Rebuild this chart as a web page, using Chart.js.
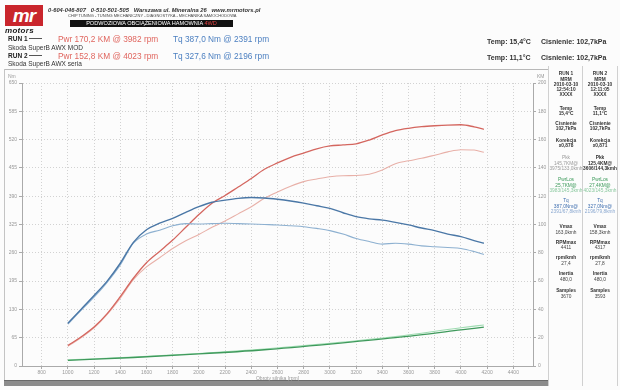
<!DOCTYPE html>
<html>
<head>
<meta charset="utf-8">
<script src="https://cdn.jsdelivr.net/npm/chart.js@4.4.0/dist/chart.umd.min.js"></script>
<style>
  body { margin: 0; background: #fff; }
  #strona { position: relative; width: 620px; height: 390px; overflow: hidden; background: #fcfcfc;
            font-family: "Liberation Sans", Arial, sans-serif; color: #333; }
  #wykres { position: absolute; left: 0; top: 0; }
  .t { position: absolute; white-space: nowrap; line-height: 1; }
  .kol { position: absolute; width: 34px; text-align: center; }
</style>
</head>
<body>
<div id="strona">
  <!-- ramka wykresu -->
  <div style="position:absolute;left:4px;top:69px;width:544px;height:1px;background:#b8b8b8"></div>
  <div style="position:absolute;left:4px;top:69px;width:1px;height:312px;background:#c4c4c4"></div>
  <div style="position:absolute;left:4px;top:380px;width:544px;height:5px;background:#8c8c8c;border-top:1px solid #6a6a6a"></div>
  <!-- panel z prawej -->
  <div style="position:absolute;left:548px;top:66px;width:1px;height:320px;background:#d0d0d0"></div>
  <div style="position:absolute;left:582px;top:66px;width:1px;height:320px;background:#d0d0d0"></div>
  <div style="position:absolute;left:617px;top:66px;width:1px;height:320px;background:#d0d0d0"></div>

  <canvas id="wykres" width="620" height="390"></canvas>

  <!-- naglowek -->
  <div style="position:absolute;left:5px;top:5px;width:38px;height:21px;background:#c9252c;color:#fff;font:italic bold 19px 'Liberation Sans',Arial;line-height:21px;text-align:center;letter-spacing:-1px">mr</div>
  <div class="t" style="left:5px;top:26px;font:italic bold 8px 'Liberation Sans',Arial;color:#1a1a1a;letter-spacing:0.3px">motors</div>
  <div class="t" style="left:48px;top:7px;font:italic bold 5.8px 'Liberation Sans',Arial;color:#333">0-604-046-807&nbsp;&nbsp; 0-510-501-505&nbsp;&nbsp; Warszawa ul. Mineralna 26&nbsp;&nbsp; www.mrmotors.pl</div>
  <div class="t" style="left:68px;top:13px;font:4px 'Liberation Sans',Arial;color:#444">CHIP TUNING - TUNING MECHANICZNY - DIAGNOSTYKA - MECHANIKA SAMOCHODOWA</div>
  <div style="position:absolute;left:70px;top:20px;width:163px;height:7px;background:#111;color:#fff;font:5.6px 'Liberation Sans',Arial;line-height:7px;text-align:center;white-space:nowrap">PODWOZIOWA OBCIĄŻENIOWA HAMOWNIA <span style="color:#e04040">4WD</span></div>

  <div class="t" style="left:8px;top:35px;font:bold 6.5px 'Liberation Sans',Arial;color:#222">RUN 1</div>
  <div style="position:absolute;left:29px;top:38px;width:13px;height:1px;background:#555"></div>
  <div class="t" style="left:58px;top:34px;font:8.3px 'Liberation Sans',Arial;color:#e0665f">Pwr 170,2 KM @ 3982 rpm</div>
  <div class="t" style="left:173px;top:34px;font:8.3px 'Liberation Sans',Arial;color:#4b7fc0">Tq 387,0 Nm @ 2391 rpm</div>
  <div class="t" style="left:8px;top:44px;font:6.5px 'Liberation Sans',Arial;color:#333">Skoda SuperB AWX MOD</div>

  <div class="t" style="left:8px;top:52px;font:bold 6.5px 'Liberation Sans',Arial;color:#222">RUN 2</div>
  <div style="position:absolute;left:29px;top:55px;width:13px;height:1px;background:#555"></div>
  <div class="t" style="left:58px;top:51px;font:8.3px 'Liberation Sans',Arial;color:#e0665f">Pwr 152,8 KM @ 4023 rpm</div>
  <div class="t" style="left:173px;top:51px;font:8.3px 'Liberation Sans',Arial;color:#4b7fc0">Tq 327,6 Nm @ 2196 rpm</div>
  <div class="t" style="left:8px;top:60px;font:6.5px 'Liberation Sans',Arial;color:#333">Skoda SuperB AWX seria</div>

  <div class="t" style="left:487px;top:38px;font:bold 7px 'Liberation Sans',Arial;color:#333">Temp: 15,4°C</div>
  <div class="t" style="left:541px;top:38px;font:bold 7px 'Liberation Sans',Arial;color:#333">Cisnienie: 102,7kPa</div>
  <div class="t" style="left:487px;top:54px;font:bold 7px 'Liberation Sans',Arial;color:#333">Temp: 11,1°C</div>
  <div class="t" style="left:541px;top:54px;font:bold 7px 'Liberation Sans',Arial;color:#333">Cisnienie: 102,7kPa</div>

  <div class="t" style="left:8px;top:73px;font:5px 'Liberation Sans',Arial;color:#999">Nm</div>
  <div class="t" style="left:537px;top:73px;font:5px 'Liberation Sans',Arial;color:#999">KM</div>
</div>

<script>
// dane
const rpm = [1000, 1100, 1200, 1300, 1400, 1500, 1600, 1700, 1800, 1900, 2000, 2100, 2200, 2300, 2400, 2500, 2600,
             2700, 2800, 2900, 3000, 3100, 3200, 3300, 3400, 3500, 3600, 3700, 3800, 3900, 4000, 4100, 4175];
const tqRun1 = [98, 130, 162, 195, 236, 284, 313, 328, 339, 353, 366, 376, 381, 385, 387, 386, 383,
                379, 374, 368, 362, 352, 343, 338, 335, 330, 324, 317, 311, 303, 297, 288, 282];
const tqRun2 = [96, 128, 158, 192, 232, 282, 303, 312, 322, 327, 326, 327, 328, 327, 326, 325, 324,
                322, 320, 316, 311, 303, 293, 286, 280, 282, 280, 276, 274, 272, 270, 263, 256];
const pwrRun1 = [14.5, 20.5, 27.5, 37, 49, 62, 73, 81, 89, 98, 107, 115, 120.5, 126.5, 132.5, 139, 143.5,
                 147.5, 150.5, 153.5, 155.5, 156.2, 157, 159.7, 163.3, 166.3, 168, 169.1, 169.8, 170.3, 170.5, 169, 167.3];
const pwrRun2 = [14, 20, 27, 36.5, 48, 61, 70, 76.5, 83, 88.5, 93, 98, 102.5, 107.5, 112.5, 118.5, 123,
                 127, 130.3, 132.2, 133.8, 134.5, 134.6, 135.5, 138.5, 143, 145, 146.8, 149, 151.3, 152.8, 152.6, 151];
const lossRpm = [1000, 1500, 2000, 2500, 3000, 3500, 4000, 4175];
const lossRun1 = [4, 6, 8.5, 11.5, 15.5, 20, 25.5, 27.5];
const lossRun2 = [4.3, 6.3, 8.8, 12, 16, 20.8, 27, 29];

const rpmTicks = [800, 1000, 1200, 1400, 1600, 1800, 2000, 2200, 2400, 2600, 2800, 3000, 3200, 3400, 3600, 3800, 4000, 4200, 4400];
const nmTicks = [0, 65, 130, 195, 260, 325, 390, 455, 520, 585, 650];
const kmTicks = [0, 20, 40, 60, 80, 100, 120, 140, 160, 180, 200];

// panel z parametrami przejazdow
const panelRun1 = [
  ["RUN 1", "b", 73], ["MRM", "b", 79], ["2010-03-10", "b", 84], ["12:54:10", "b", 89], ["XXXX", "b", 94],
  ["Temp", "b", 108], ["15,4°C", "b", 113], ["Cisnienie", "b", 123], ["102,7kPa", "b", 128],
  ["Korekcja", "b", 140], ["x0,878", "b", 145],
  ["Pkk", "s", 157], ["145,7KM@", "s", 163], ["3975/133,0kmh", "s", 168],
  ["PwrLos", "g", 179], ["25,7KM@", "g", 185], ["3983/145,3kmh", "g2", 190],
  ["Tq", "n", 200], ["387,0Nm@", "n", 206], ["2391/67,8kmh", "n2", 211],
  ["Vmax", "b", 226], ["163,0kmh", "r", 232], ["RPMmax", "b", 242], ["4411", "r", 247],
  ["rpm/kmh", "b", 257], ["27,4", "r", 263], ["Inertia", "b", 273], ["480,0", "r", 279],
  ["Samples", "b", 290], ["3670", "r", 296]
];
const panelRun2 = [
  ["RUN 2", "b", 73], ["MRM", "b", 79], ["2010-03-10", "b", 84], ["12:11:05", "b", 89], ["XXXX", "b", 94],
  ["Temp", "b", 108], ["11,1°C", "b", 113], ["Cisnienie", "b", 123], ["102,7kPa", "b", 128],
  ["Korekcja", "b", 140], ["x0,871", "b", 145],
  ["Pkk", "b", 157], ["125,4KM@", "b", 163], ["3606/144,3kmh", "b", 168],
  ["PwrLos", "g", 179], ["27,4KM@", "g", 185], ["4023/145,3kmh", "g2", 190],
  ["Tq", "n", 200], ["327,0Nm@", "n", 206], ["2196/79,8kmh", "n2", 211],
  ["Vmax", "b", 226], ["158,3kmh", "r", 232], ["RPMmax", "b", 242], ["4317", "r", 247],
  ["rpm/kmh", "b", 257], ["27,8", "r", 263], ["Inertia", "b", 273], ["480,0", "r", 279],
  ["Samples", "b", 290], ["3593", "r", 296]
];

const style = {
  b: "bold 4.8px 'Liberation Sans',Arial;color:#333",
  r: "4.8px 'Liberation Sans',Arial;color:#444",
  s: "4.8px 'Liberation Sans',Arial;color:#9a9a9a",
  g: "4.8px 'Liberation Sans',Arial;color:#3c9a5a",
  g2: "4.8px 'Liberation Sans',Arial;color:#8cc9a0",
  n: "4.8px 'Liberation Sans',Arial;color:#3f6fb0",
  n2: "4.8px 'Liberation Sans',Arial;color:#8aa8d0"
};

function panel(lista, x) {
  const strona = document.getElementById("strona");
  lista.forEach(([tekst, s, y]) => {
    const d = document.createElement("div");
    d.className = "t kol";
    d.style.cssText = "left:" + x + "px;top:" + (y - 2.5) + "px;font:" + style[s];
    d.textContent = tekst;
    strona.appendChild(d);
  });
}
panel(panelRun1, 549);
panel(panelRun2, 583);

function punkty(xs, ys) {
  return xs.map((x, i) => ({ x: x, y: ys[i] }));
}

const ctx = document.getElementById("wykres").getContext("2d");
const malaCzcionka = { family: "'Liberation Sans', Arial", size: 5 };
const bezFormatu = v => String(v);

new Chart(ctx, {
  type: "line",
  data: {
    datasets: [
      { label: "Tq RUN 1", data: punkty(rpm, tqRun1), yAxisID: "yNm", borderColor: "#4a77a6", borderWidth: 1.4 },
      { label: "Tq RUN 2", data: punkty(rpm, tqRun2), yAxisID: "yNm", borderColor: "#8db0d0", borderWidth: 1.1 },
      { label: "Pwr RUN 1", data: punkty(rpm, pwrRun1), yAxisID: "yKm", borderColor: "#d4665f", borderWidth: 1.3 },
      { label: "Pwr RUN 2", data: punkty(rpm, pwrRun2), yAxisID: "yKm", borderColor: "#e8b0a8", borderWidth: 1.1 },
      { label: "Loss RUN 1", data: punkty(lossRpm, lossRun1), yAxisID: "yKm", borderColor: "#3f9a5c", borderWidth: 1.3 },
      { label: "Loss RUN 2", data: punkty(lossRpm, lossRun2), yAxisID: "yKm", borderColor: "#9fdcb2", borderWidth: 1.1 }
    ]
  },
  options: {
    responsive: false,
    animation: false,
    layout: { padding: { left: 0, top: 83, right: 72, bottom: 8 } },
    elements: {
      point: { radius: 0 },
      line: { cubicInterpolationMode: "monotone", fill: false }
    },
    plugins: { legend: { display: false }, tooltip: { enabled: false } },
    scales: {
      x: {
        type: "linear",
        min: 650,
        max: 4550,
        afterBuildTicks: s => { s.ticks = rpmTicks.map(v => ({ value: v })); },
        afterFit: s => { s.height = 16; },
        grid: { color: "#d2d2d2", tickLength: 3, tickColor: "#aaa" },
        border: { color: "#aaa", dash: [1, 2] },
        ticks: { font: malaCzcionka, color: "#999", padding: 1, maxRotation: 0, autoSkip: false, callback: bezFormatu },
        title: { display: true, text: "Obroty silnika [rpm]", font: malaCzcionka, color: "#999", padding: 0 }
      },
      yNm: {
        position: "left",
        min: 0,
        max: 650,
        afterBuildTicks: s => { s.ticks = nmTicks.map(v => ({ value: v })); },
        afterFit: s => { s.width = 22; },
        grid: { color: "#d2d2d2", tickLength: 3, tickColor: "#aaa" },
        border: { color: "#aaa", dash: [1, 2] },
        ticks: { font: malaCzcionka, color: "#999", padding: 2, callback: bezFormatu }
      },
      yKm: {
        position: "right",
        min: 0,
        max: 200,
        afterBuildTicks: s => { s.ticks = kmTicks.map(v => ({ value: v })); },
        afterFit: s => { s.width = 15; },
        grid: { drawOnChartArea: false, tickLength: 3, tickColor: "#aaa" },
        border: { color: "#aaa" },
        ticks: { font: malaCzcionka, color: "#999", padding: 2, callback: bezFormatu }
      }
    }
  }
});
</script>
</body>
</html>
